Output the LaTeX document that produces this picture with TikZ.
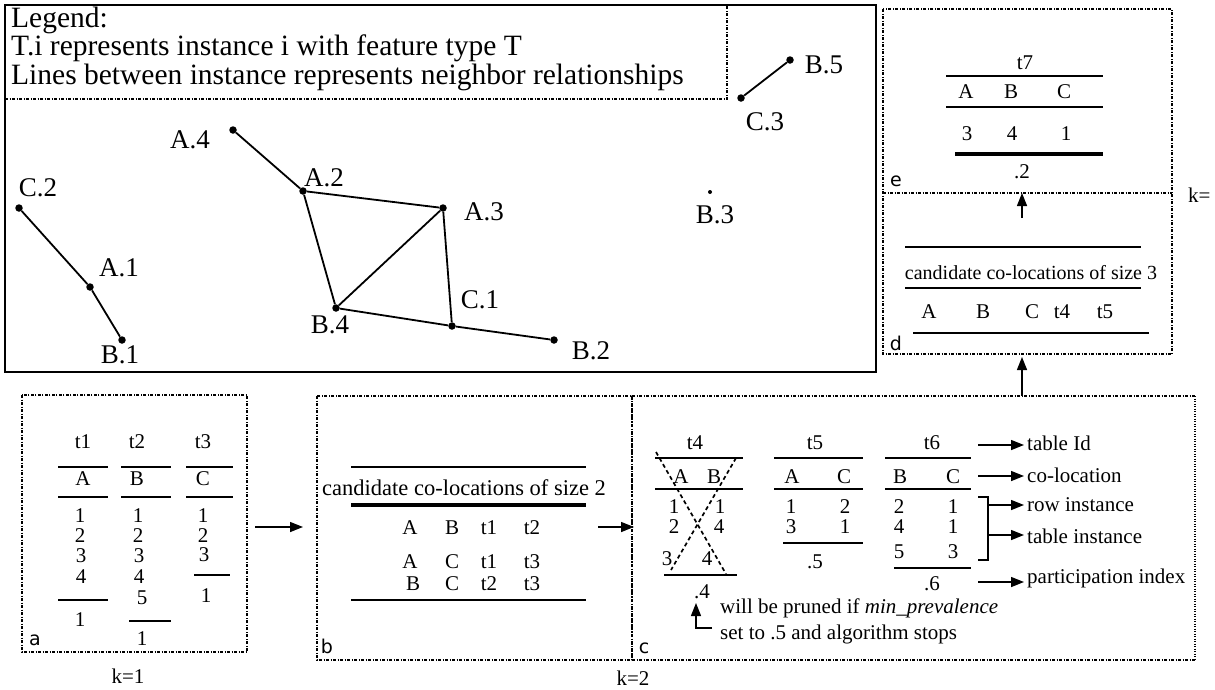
\documentclass[tikz,border=0pt]{standalone}
\usepackage{fontspec}
\setmainfont{Liberation Serif}
\newfontfamily\labfont{DejaVu Sans}
\usetikzlibrary{arrows.meta}
\begin{document}
\begin{tikzpicture}[x=1pt,y=-1pt,
  box/.style={line width=1.3pt, dash pattern=on 3pt off 1.5pt on 1pt off 1.5pt},
  thickdot/.style={line width=2.6pt, dash pattern=on 1.2pt off 1.3pt},
  tl/.style={line width=2.2pt},
  thl/.style={line width=4.2pt},
  T/.style={font=\fontsize{21}{23}\selectfont, inner sep=0pt},
  G/.style={font=\fontsize{27}{29}\selectfont, inner sep=0pt},
  L/.style={font=\fontsize{29.5}{31}\selectfont, inner sep=0pt, anchor=base west},
  P/.style={font=\labfont\fontsize{19}{21}\selectfont, inner sep=0pt},
  dot/.style={circle, fill, inner sep=0pt, minimum size=7.5pt},
  edge/.style={line width=1.8pt},
  arr/.style={-{Triangle[length=13pt,width=10pt]}, line width=1.4pt},
  xdash/.style={line width=1.7pt, dash pattern=on 4pt off 3pt}]
\fill[white] (0,0) rectangle (1215,689);
\useasboundingbox (0,0) rectangle (1215,689);

% ---------- main box and legend ----------
\draw[line width=2.2pt] (5,5) rectangle (876,372);
\draw[box] (5,99) -- (727,99) -- (727,5);
\node[L] (leg1) at (11,27) {Legend:};
\node[L] (leg2) at (11,55) {T.i represents instance i with feature type T};
\node[L] (leg3) at (11,84) {Lines between instance represents neighbor relationships};

% ---------- graph ----------
\node[dot] (A4) at (233,130) {};
\node[dot] (A2) at (303,191) {};
\node[dot] (A3) at (443,208) {};
\node[dot] (B4) at (336,308) {};
\node[dot] (C1) at (452,326) {};
\node[dot] (B2) at (554,340) {};
\node[dot] (C2) at (19,208) {};
\node[dot] (A1) at (90,287) {};
\node[dot] (B1) at (122,340) {};
\node[circle, fill, inner sep=0pt, minimum size=4pt] (B3) at (710,192) {};
\node[dot] (C3) at (741,98) {};
\node[dot] (B5) at (790,60) {};

\node[G] (lA4) at (190,140) {A.4};
\node[G] (lA2) at (324,178) {A.2};
\node[G] (lA3) at (484,212) {A.3};
\node[G] (lB4) at (330,325) {B.4};
\node[G] (lC1) at (480,300) {C.1};
\node[G] (lB2) at (591,351) {B.2};
\node[G] (lC2) at (38,188) {C.2};
\node[G] (lA1) at (119,268) {A.1};
\node[G] (lB1) at (120,355) {B.1};
\node[G] (lB3) at (715,215) {B.3};
\node[G] (lC3) at (765,122) {C.3};
\node[G] (lB5) at (824,65) {B.5};

\draw[edge] (A4) -- (A2);
\draw[edge] (A2) -- (A3);
\draw[edge] (A2) -- (B4);
\draw[edge] (A3) -- (B4);
\draw[edge] (A3) -- (C1);
\draw[edge] (B4) -- (C1);
\draw[edge] (C1) -- (B2);
\draw[edge] (C2) -- (A1);
\draw[edge] (A1) -- (B1);
\draw[edge] (C3) -- (B5);

% ---------- panel e / d ----------
\draw[box] (883,9) rectangle (1172,354);
\draw[box] (883,193) -- (1172,193);
\node[T] (t7) at (1025,63) {t7};
\draw[tl] (946,76) -- (1103,76);
\node[T] (t7A) at (966,92) {A};
\node[T] (t7B) at (1011,92) {B};
\node[T] (t7C) at (1064,92) {C};
\draw[tl] (946,107) -- (1103,107);
\node[T] (t7a) at (967,134) {3};
\node[T] (t7b) at (1012,134) {4};
\node[T] (t7c) at (1066,134) {1};
\draw[thl] (955,154) -- (1103,154);
\node[T] (t7pi) at (1022,172) {.2};
\node[P] (le) at (896,181) {e};
\node[T, anchor=west] (k3) at (1188,195) {k=};
\coordinate (e0) at (1022,218);
\coordinate (e1) at (1022,193);
\draw[arr] (e0) -- (e1);
\draw[tl] (905,247) -- (1141,247);
\node[font=\fontsize{20}{22}\selectfont, inner sep=0pt] (cand3) at (1031,273) {candidate co-locations of size 3};
\draw[tl] (905,288) -- (1141,288);
\node[T] (d1) at (929,312) {A};
\node[T] (d2) at (983,312) {B};
\node[T] (d3) at (1032,312) {C};
\node[T] (d4) at (1062,312) {t4};
\node[T] (d5) at (1105,312) {t5};
\draw[tl] (913,333) -- (1149,333);
\node[P] (ld) at (896,343) {d};
\coordinate (cd0) at (1022,396);
\coordinate (cd1) at (1022,357);
\draw[arr] (cd0) -- (cd1);

% ---------- panel a ----------
\draw[box] (22,395) rectangle (247,652);
\node[T] (t1) at (83,442) {t1};
\node[T] (t2) at (137,442) {t2};
\node[T] (t3) at (203,442) {t3};
\draw[tl] (58,467) -- (108,467);
\draw[tl] (121,467) -- (171,467);
\draw[tl] (186,467) -- (233,467);
\node[T] (aA) at (83,479) {A};
\node[T] (aB) at (137,479) {B};
\node[T] (aC) at (203,479) {C};
\draw[tl] (58,497) -- (108,497);
\draw[tl] (121,497) -- (171,497);
\draw[tl] (186,497) -- (233,497);
\node[T] (a11) at (80,516) {1};
\node[T] (a12) at (80,536) {2};
\node[T] (a13) at (81,556) {3};
\node[T] (a14) at (81,577) {4};
\draw[tl] (58,600) -- (108,600);
\node[T] (a1p) at (80,620) {1};
\node[T] (a21) at (138,516) {1};
\node[T] (a22) at (138,536) {2};
\node[T] (a23) at (139,556) {3};
\node[T] (a24) at (139,577) {4};
\node[T] (a25) at (142,598) {5};
\draw[tl] (129,621) -- (171,621);
\node[T] (a2p) at (142,639) {1};
\node[T] (a31) at (203,516) {1};
\node[T] (a32) at (203,536) {2};
\node[T] (a33) at (204,555) {3};
\draw[tl] (194,575) -- (230,575);
\node[T] (a3p) at (206,596) {1};
\node[P] (la) at (35,640) {a};
\node[T] (k1) at (128,676) {k=1};
\coordinate (ab0) at (255,527);
\coordinate (ab1) at (303,527);
\draw[arr] (ab0) -- (ab1);

% ---------- panel b ----------
\draw[box] (317,396) rectangle (632,660);
\draw[tl] (351,467) -- (586,467);
\node[font=\fontsize{22.5}{24}\selectfont, inner sep=0pt] (cand2) at (464,488) {candidate co-locations of size 2};
\draw[thl] (351,505) -- (586,505);
\node[T] (b11) at (410,528) {A};
\node[T] (b12) at (452,528) {B};
\node[T] (b13) at (489,528) {t1};
\node[T] (b14) at (532,528) {t2};
\node[T] (b21) at (410,562) {A};
\node[T] (b22) at (452,562) {C};
\node[T] (b23) at (489,562) {t1};
\node[T] (b24) at (532,562) {t3};
\node[T] (b31) at (413,584) {B};
\node[T] (b32) at (452,584) {C};
\node[T] (b33) at (489,584) {t2};
\node[T] (b34) at (532,584) {t3};
\draw[tl] (351,600) -- (586,600);
\node[P] (lb) at (327,646) {b};
\node[T] (k2) at (633,678) {k=2};
\coordinate (bc0) at (598,527);
\coordinate (bc1) at (634,527);
\draw[arr] (bc0) -- (bc1);

% ---------- panel c ----------
\draw[box] (632,396) -- (1195,396);
\draw[box] (632,660) -- (1195,660);
\draw[thickdot] (632,396) -- (632,660);
\draw[thickdot] (1195,396) -- (1195,660);
\node[P] (lc) at (644,648) {c};

% t4
\node[T] (t4) at (695,443) {t4};
\draw[tl] (655,458) -- (743,458);
\node[T] (t4A) at (681,477) {A};
\node[T] (t4B) at (714,477) {B};
\draw[tl] (655,489) -- (743,489);
\node[T] (t41a) at (674,507) {1};
\node[T] (t41b) at (720,507) {1};
\node[T] (t42a) at (674,527) {2};
\node[T] (t42b) at (719,527) {4};
\node[T] (t43a) at (667,559) {3};
\node[T] (t43b) at (707,559) {4};
\draw[tl] (664,575) -- (737,575);
\node[T] (t4pi) at (702,592) {.4};
\draw[xdash] (656,452) -- (726,574);
\draw[xdash] (736,458) -- (671,570);

% t5
\node[T] (t5) at (815,443) {t5};
\draw[tl] (774,458) -- (863,458);
\node[T] (t5A) at (792,477) {A};
\node[T] (t5C) at (844,477) {C};
\draw[tl] (774,489) -- (863,489);
\node[T] (t51a) at (791,507) {1};
\node[T] (t51b) at (845,507) {2};
\node[T] (t52a) at (791,527) {3};
\node[T] (t52b) at (845,527) {1};
\draw[tl] (783,543) -- (863,543);
\node[T] (t5pi) at (815,562) {.5};

% t6
\node[T] (t6) at (932,443) {t6};
\draw[tl] (885,458) -- (971,458);
\node[T] (t6B) at (900,477) {B};
\node[T] (t6C) at (953,477) {C};
\draw[tl] (885,489) -- (971,489);
\node[T] (t61a) at (899,507) {2};
\node[T] (t61b) at (953,507) {1};
\node[T] (t62a) at (899,527) {4};
\node[T] (t62b) at (953,527) {1};
\node[T] (t63a) at (899,552) {5};
\node[T] (t63b) at (953,552) {3};
\draw[tl] (894,568) -- (971,568);
\node[T] (t6pi) at (932,584) {.6};

% annotations
\coordinate (n1a) at (978,445);
\coordinate (n1b) at (1024,445);
\draw[arr] (n1a) -- (n1b);
\node[T, anchor=west] (tid) at (1027,443) {table Id};
\coordinate (n2a) at (978,476);
\coordinate (n2b) at (1024,476);
\draw[arr] (n2a) -- (n2b);
\node[T, anchor=west] (tcl) at (1027,475) {co-location};
\coordinate (br0) at (978,497);
\coordinate (br1) at (988,497);
\coordinate (br2) at (988,560);
\coordinate (br3) at (978,560);
\draw[line width=1.6pt] (br0) -- (br1) -- (br2) -- (br3);
\coordinate (n3a) at (988,505);
\coordinate (n3b) at (1024,505);
\draw[arr] (n3a) -- (n3b);
\node[T, anchor=west] (tri) at (1027,505) {row instance};
\coordinate (n4a) at (988,535);
\coordinate (n4b) at (1024,535);
\draw[arr] (n4a) -- (n4b);
\node[T, anchor=west] (tti) at (1027,536) {table instance};
\coordinate (n5a) at (978,582);
\coordinate (n5b) at (1024,582);
\draw[arr] (n5a) -- (n5b);
\node[T, anchor=west] (tpi) at (1027,578) {participation index};

\coordinate (pr0) at (712,628);
\coordinate (pr1) at (696,628);
\coordinate (pr2) at (696,603);
\draw[arr] (pr0) -- (pr1) -- (pr2);
\node[T, anchor=west] (prune1) at (720,608) {will be pruned if \textit{min\_prevalence}};
\node[T, anchor=west] (prune2) at (720,634) {set to .5 and algorithm stops};
\end{tikzpicture}
\end{document}
